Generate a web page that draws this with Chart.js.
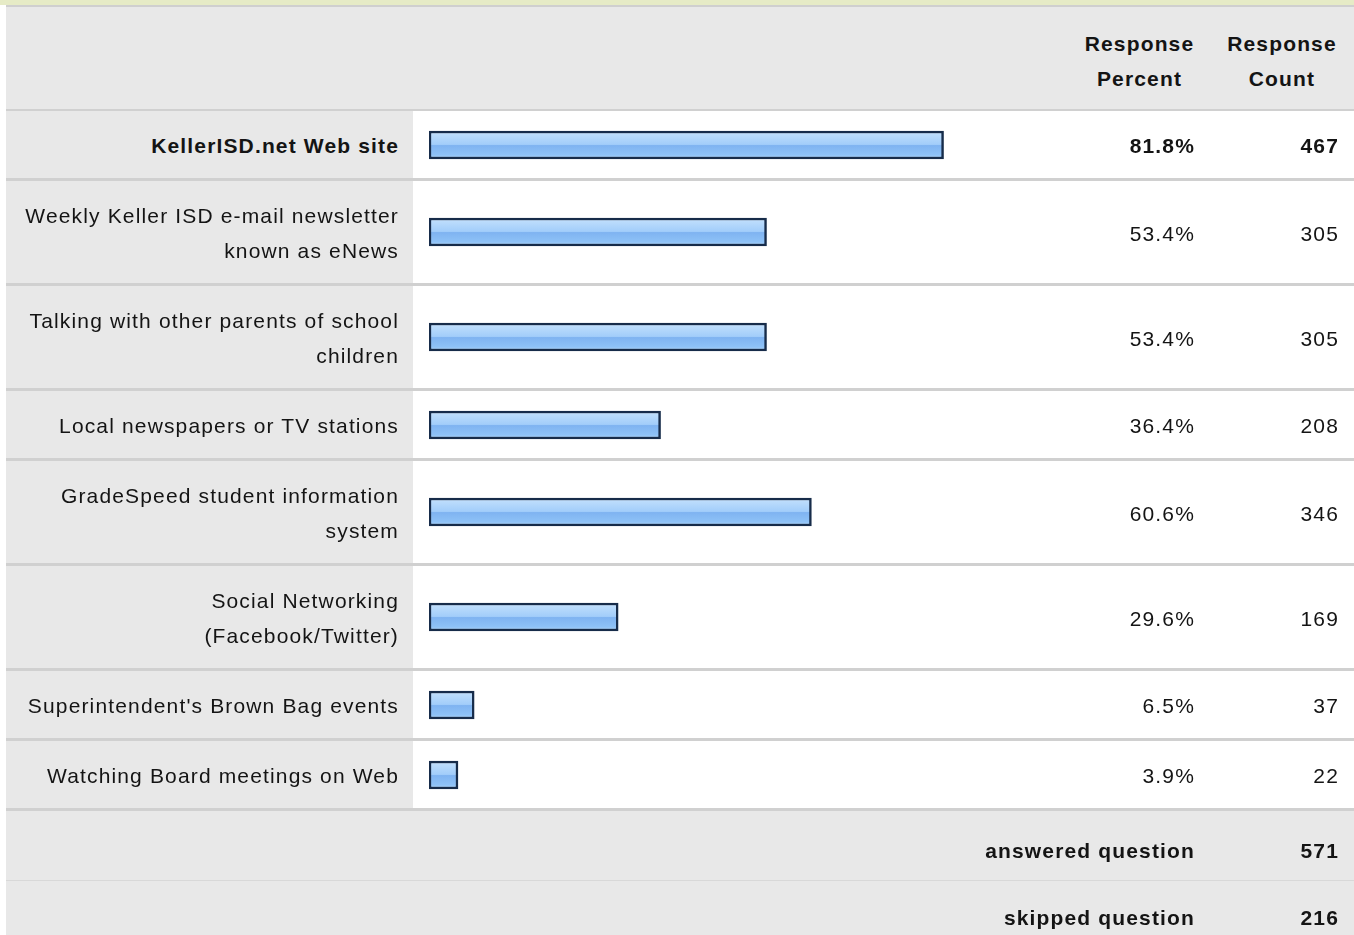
<!DOCTYPE html>
<html>
<head>
<meta charset="utf-8">
<script src="https://cdn.jsdelivr.net/npm/chart.js@4"></script>
<style>
  html, body { margin: 0; padding: 0; background: #fff; }
  body { width: 1354px; height: 935px; overflow: hidden; font-family: "Liberation Sans", Arial, sans-serif; color: #141414; font-size: 21px; letter-spacing: 1.15px; }
  .topbar { height: 5px; background: #e6ebc6; }
  .wrap { margin-left: 6px; width: 1348px; border-top: 2px solid #cfcfcf; }
  .row { display: grid; grid-template-columns: 407px 662px 135px 144px; border-bottom: 3px solid #d0d0d0; background: #fff; }
  .row > div { line-height: 35px; }
  .lbl { background: #e8e8e8; text-align: right; padding: 17px 14px 15px 0; }
  .bar { display: flex; align-items: center; padding-left: 16px; }
  .pct, .cnt { display: flex; align-items: center; justify-content: flex-end; padding-right: 15px; padding-top: 2px; }
  .head { background: #e8e8e8; height: 102px; border-bottom: 2px solid #d0d0d0; display: grid; grid-template-columns: 1069px 135px 144px; }
  .head div { font-weight: bold; text-align: center; line-height: 35px; padding-top: 19px; }
  .head div.pcth { padding-right: 6px; }
  .bold { font-weight: bold; }
  .sum { background: #e8e8e8; display: grid; grid-template-columns: 1204px 144px; font-weight: bold; }
  .sum div { line-height: 35px; text-align: right; padding-right: 15px; }
  .sum.first { height: 69px; border-bottom: 1px solid #d8d8d8; }
  .sum.first div { padding-top: 22px; }
  .sum.last { height: 60px; }
  .sum.last div { padding-top: 19px; }
  canvas { display: block; }
</style>
</head>
<body>
<div class="topbar"></div>
<div class="wrap" id="wrap">
  <div class="head"><div></div><div class="pcth">Response<br>Percent</div><div>Response<br>Count</div></div>
</div>
<script>
// answer options, two-line ones split with \n like the original
const categories = [
  'KellerISD.net Web site',
  'Weekly Keller ISD e-mail newsletter\nknown as eNews',
  'Talking with other parents of school\nchildren',
  'Local newspapers or TV stations',
  'GradeSpeed student information\nsystem',
  'Social Networking\n(Facebook/Twitter)',
  "Superintendent's Brown Bag events",
  'Watching Board meetings on Web'
];
const responsePercent = [81.8, 53.4, 53.4, 36.4, 60.6, 29.6, 6.5, 3.9];
const responseCount = [467, 305, 305, 208, 346, 169, 37, 22];
const summaryLabels = ['answered question', 'skipped question'];
const summaryCounts = [571, 216];

// bars never go fully to zero width, the survey tool keeps a small stub
const barBase = -0.75;

const wrap = document.getElementById('wrap');

function barFill(c) {
  const chart = c.chart;
  const area = chart.chartArea;
  if (!area) return '#9cc8f8';
  const mid = (area.top + area.bottom) / 2;
  const g = chart.ctx.createLinearGradient(0, mid - 14, 0, mid + 14);
  g.addColorStop(0, '#dcecfd');
  g.addColorStop(0.12, '#bcdcfc');
  g.addColorStop(0.48, '#a2cdfa');
  g.addColorStop(0.52, '#7fb3f1');
  g.addColorStop(0.85, '#8ec2f7');
  g.addColorStop(1, '#b2d6fb');
  return g;
}

categories.forEach((cat, i) => {
  const row = document.createElement('div');
  row.className = 'row' + (i === 0 ? ' bold' : '');

  const lbl = document.createElement('div');
  lbl.className = 'lbl';
  lbl.innerHTML = cat.split('\n').join('<br>');
  row.appendChild(lbl);

  const barCell = document.createElement('div');
  barCell.className = 'bar';
  const cv = document.createElement('canvas');
  cv.width = 628;
  cv.height = 40;
  barCell.appendChild(cv);
  row.appendChild(barCell);

  const pct = document.createElement('div');
  pct.className = 'pct';
  pct.textContent = responsePercent[i].toFixed(1) + '%';
  row.appendChild(pct);

  const cnt = document.createElement('div');
  cnt.className = 'cnt';
  cnt.textContent = responseCount[i];
  row.appendChild(cnt);

  wrap.appendChild(row);

  new Chart(cv, {
    type: 'bar',
    data: {
      labels: [cat],
      datasets: [{
        data: [responsePercent[i]],
        base: barBase,
        backgroundColor: barFill,
        borderColor: '#172c4a',
        borderWidth: 2.5,
        borderSkipped: false,
        barThickness: 28
      }]
    },
    options: {
      indexAxis: 'y',
      responsive: false,
      animation: false,
      layout: { padding: 0 },
      plugins: { legend: { display: false }, tooltip: { enabled: false } },
      scales: {
        x: { display: false, min: barBase, max: 100 },
        y: { display: false }
      }
    }
  });
});

summaryLabels.forEach((s, i) => {
  const row = document.createElement('div');
  row.className = 'sum ' + (i === 0 ? 'first' : 'last');
  row.innerHTML = '<div>' + s + '</div><div>' + summaryCounts[i] + '</div>';
  wrap.appendChild(row);
});
</script>
</body>
</html>
